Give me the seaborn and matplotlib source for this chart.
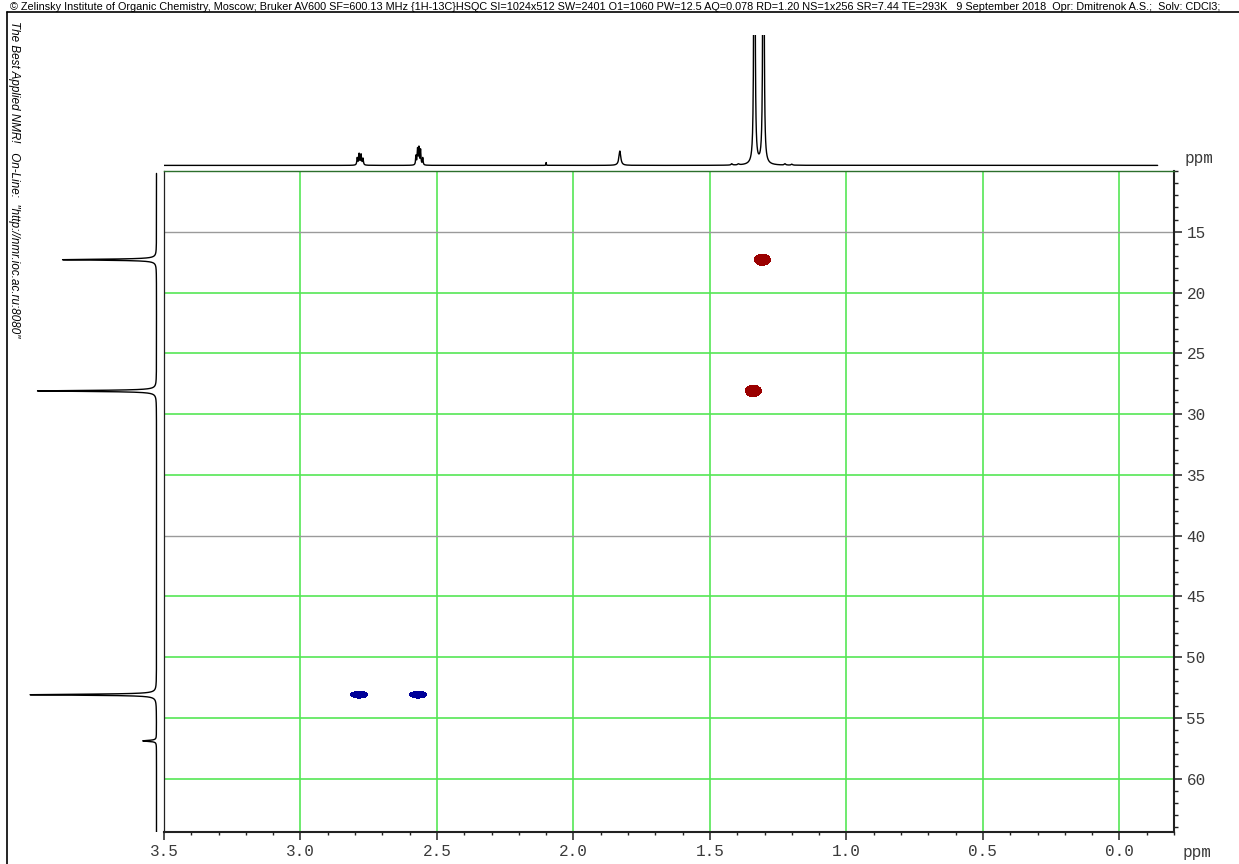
import numpy as np
import pandas as pd
import matplotlib
matplotlib.use("Agg")
import matplotlib.pyplot as plt
import seaborn as sns
from matplotlib.lines import Line2D
from matplotlib.ticker import MultipleLocator, FixedLocator

# ---- 1H projection (F2): line positions (ppm), heights, half-widths (ppm)
h_ppm = [2.792, 2.785, 2.778, 2.771,
         2.577, 2.571, 2.566, 2.560, 2.552,
         2.100, 1.830, 1.337, 1.304, 1.420, 1.395, 1.225, 1.200]
h_int = [0.055, 0.085, 0.080, 0.050,
         0.070, 0.120, 0.130, 0.115, 0.055,
         0.022, 0.110, 12.0, 12.0, 0.010, 0.008, 0.010, 0.008]
h_hw = [0.0018, 0.0018, 0.0018, 0.0018,
        0.0015, 0.0015, 0.0015, 0.0015, 0.0015,
        0.0008, 0.0040, 0.0010, 0.0010, 0.003, 0.003, 0.003, 0.003]

# ---- 13C projection (F1)
c_ppm = [17.3, 28.1, 53.1, 56.9]
c_int = [0.75, 0.95, 1.01, 0.11]
c_hw = [0.05, 0.05, 0.05, 0.05]

# ---- HSQC cross peaks: 1H shift, 13C shift, phase (+1 CH/CH3, -1 CH2)
xp_h = [1.308, 1.341, 2.785, 2.569]
xp_c = [17.3, 28.1, 53.1, 53.1]
xp_phase = [1, 1, -1, -1]

# axis ticks
x_ticks = [3.5, 3.0, 2.5, 2.0, 1.5, 1.0, 0.5, 0.0]
x_labels = ["3.5", "3.0", "2.5", "2.0", "1.5", "1.0", "0.5", "0.0"]
y_ticks = [15, 20, 25, 30, 35, 40, 45, 50, 55, 60]
y_labels = ["15", "20", "25", "30", "35", "40", "45", "50", "55", "60"]

header = ("\u00a9 Zelinsky Institute of Organic Chemistry, Moscow; Bruker AV600 SF=600.13 MHz "
          "{1H-13C}HSQC SI=1024x512 SW=2401 O1=1060 PW=12.5 AQ=0.078 RD=1.20 NS=1x256 "
          "SR=7.44 TE=293K   9 September 2018  Opr: Dmitrenok A.S.;  Solv: CDCl3;")
side_note = "The Best Applied NMR!   On-Line:  \"http://nmr.ioc.ac.ru:8080\""

X_LIM = (3.5, -0.2)
Y_LIM = (64.4, 10.0)

sns.set_style("white")
plt.rcParams["font.family"] = ["Liberation Sans", "DejaVu Sans"]

W, H = 1239, 864
fig = plt.figure(figsize=(W / 100, H / 100), dpi=100)


def fx(px):
    return px / W


def fy(py):
    return 1 - py / H


def lorentz(grid, pos, amp, hw):
    out = np.zeros_like(grid)
    for p, a, w in zip(pos, amp, hw):
        out += a * w ** 2 / ((grid - p) ** 2 + w ** 2)
    return out


mono = "Liberation Mono"
tick_col = "#3a3a3a"
green = "#55e655"
grey_line = "#9a9a9a"

# ---------------- main 2D panel ----------------
ax = fig.add_axes([fx(164), fy(832), fx(1174 - 164), (832 - 171) / H])
ax.set_xlim(*X_LIM)
ax.set_ylim(*Y_LIM)

for xv in x_ticks[1:]:
    ax.axvline(xv, color=green, lw=1.2, zorder=1)
for yv in y_ticks:
    ax.axhline(yv, color=grey_line if yv in (15, 40) else green, lw=1.0 if yv in (15, 40) else 1.2, zorder=1)

gx = np.linspace(-0.2, 3.5, 2600)
gy = np.linspace(10.0, 64.4, 1800)
GX, GY = np.meshgrid(gx, gy)
Z = np.zeros_like(GX)
for h, c, ph in zip(xp_h, xp_c, xp_phase):
    sx = 0.0187 if ph > 0 else 0.020
    sy = 0.30 if ph > 0 else 0.18
    Z += ph * np.exp(-0.5 * ((GX - h) / sx) ** 2 - 0.5 * ((GY - c) / sy) ** 2)
ax.contourf(GX, GY, Z, levels=[0.3, 10], colors=["#9b0000"], zorder=3)
ax.contourf(GX, GY, Z, levels=[-10, -0.3], colors=["#000099"], zorder=3)

ax.yaxis.tick_right()
ax.xaxis.tick_bottom()
ax.xaxis.set_major_locator(FixedLocator(x_ticks))
ax.set_xticklabels(x_labels)
ax.xaxis.set_minor_locator(MultipleLocator(0.1))
ax.yaxis.set_major_locator(FixedLocator(y_ticks))
ax.set_yticklabels(y_labels)
ax.yaxis.set_minor_locator(MultipleLocator(1))
ax.tick_params(axis="x", which="major", direction="out", length=5.5, width=1.1,
               color="#222222", pad=3.5, labelsize=11.5, labelcolor=tick_col, bottom=True)
ax.tick_params(axis="x", which="minor", direction="out", length=2.5, width=1.0,
               color="#222222", bottom=True)
ax.tick_params(axis="y", which="major", direction="out", length=6, width=1.1,
               color="#222222", pad=3, labelsize=11.5, labelcolor=tick_col, right=True, left=False)
ax.tick_params(axis="y", which="minor", direction="out", length=3, width=1.0,
               color="#222222", right=True, left=False)
for lab in ax.get_xticklabels() + ax.get_yticklabels():
    lab.set_fontfamily(mono)
for side in ("bottom", "right"):
    ax.spines[side].set_linewidth(1.5)
    ax.spines[side].set_color("#222222")
ax.spines["left"].set_linewidth(0.9)
ax.spines["left"].set_color("#222222")
ax.spines["top"].set_linewidth(1.0)
ax.spines["top"].set_color("#2c6f2c")
ax.set_xlabel("")
ax.set_ylabel("")

# ---------------- 1H projection on top ----------------
axt = fig.add_axes([fx(164), fy(168), fx(1174 - 164), (168 - 35) / H])
hx = np.linspace(-0.14, 3.5, 24000)
hy = lorentz(hx, h_ppm, h_int, h_hw)
sns.lineplot(x=hx, y=hy, ax=axt, color="black", lw=1.0, sort=False, estimator=None)
axt.set_xlim(*X_LIM)
axt.set_ylim(-0.02, 1.0)
axt.axis("off")
fig.text(fx(1185), fy(158), "ppm", fontsize=11.5, family=mono, color=tick_col,
         ha="left", va="center")

# ---------------- 13C projection on the left ----------------
axl = fig.add_axes([fx(25), fy(832), fx(134), (832 - 171) / H])
cy = np.linspace(10.2, 64.4, 24000)
cx = lorentz(cy, c_ppm, c_int, c_hw)
sns.lineplot(x=cx, y=cy, ax=axl, color="black", lw=1.0, sort=False, estimator=None, orient="y")
axl.set_xlim(1.05, -0.02)
axl.set_ylim(*Y_LIM)
axl.axis("off")

fig.text(fx(1183), fy(853), "ppm", fontsize=11.5, family=mono, color=tick_col,
         ha="left", va="center")

# ---------------- page frame and annotations ----------------
fig.add_artist(Line2D([fx(7), 1.0], [fy(12), fy(12)], color="black", lw=1.2))
fig.add_artist(Line2D([fx(7), fx(7)], [fy(12), 0.0], color="black", lw=1.2))
fig.text(fx(10), fy(10), header, fontsize=7.85, color="black", ha="left", va="baseline")
fig.text(fx(14), fy(21), side_note, fontsize=8.4, style="italic", color="black",
         rotation=270, ha="center", va="top")

fig.savefig("out.png", dpi=100)
